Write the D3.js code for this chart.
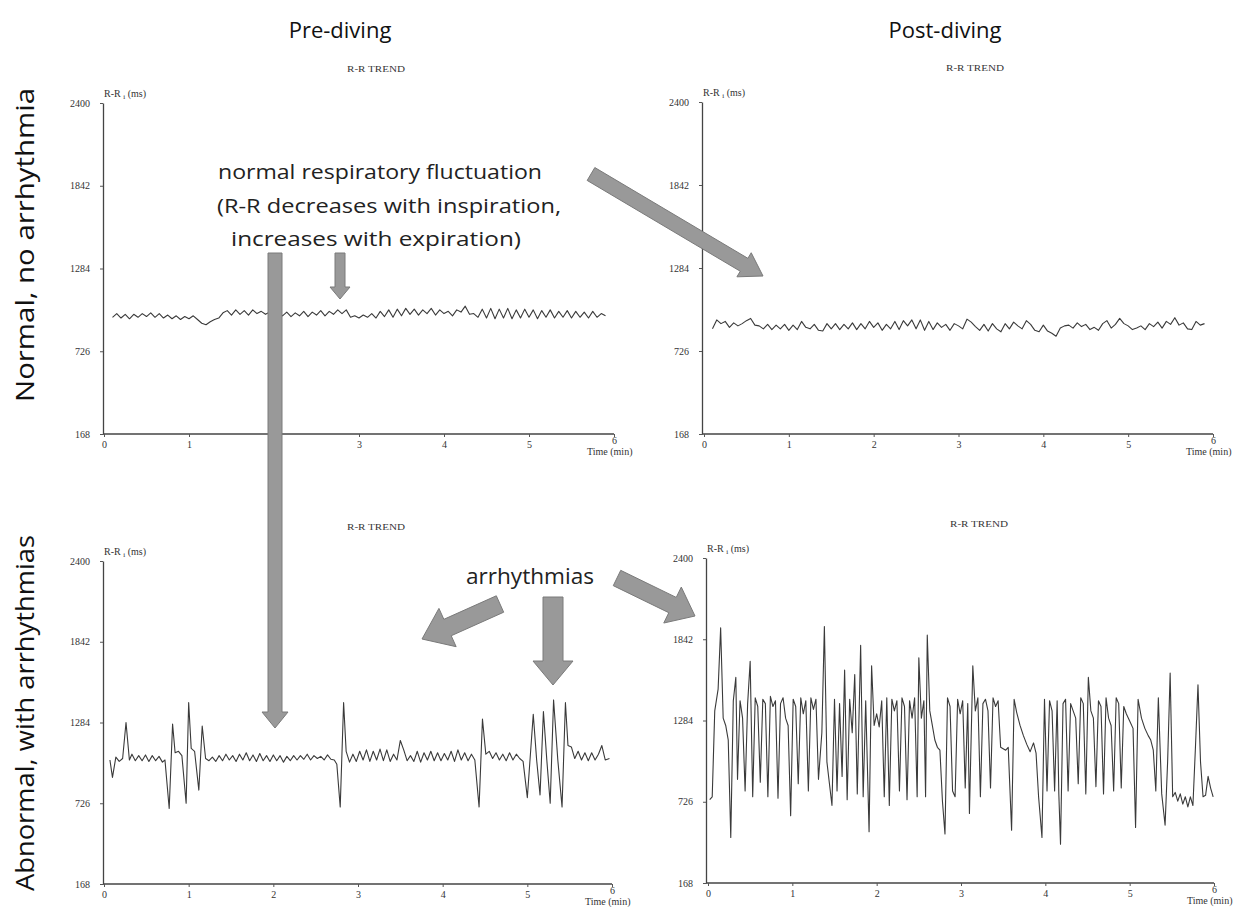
<!DOCTYPE html>
<html>
<head>
<meta charset="utf-8">
<script src="https://cdn.jsdelivr.net/npm/d3@7"></script>
<style>
body { margin: 0; background: #fff; }
svg { display: block; }
</style>
</head>
<body>
<div class="viz"></div>
<script>
// axis ticks
var timeTicks = [0, 1, 2, 3, 4, 5, 6];
var rrTicks = [168, 726, 1284, 1842, 2400];

// evenly sampled traces (min from 0.1, every 0.05 min), R-R in ms
var sampleStart = 0.1, sampleStep = 0.05;
var preNormal = [955, 980, 950, 975, 945, 975, 955, 980, 960, 985, 955, 980, 950, 970, 945, 965, 940, 960, 945, 965,
    940, 915, 905, 925, 940, 950, 985, 1000, 970, 1005, 975, 1000, 970, 1005, 980, 995, 975, 990, 970, 995,
    965, 990, 960, 985, 965, 995, 960, 990, 970, 1000, 965, 995, 975, 1005, 980, 1005, 955, 965, 950, 970,
    955, 980, 950, 995, 960, 1005, 955, 1010, 965, 1015, 975, 1010, 970, 1005, 980, 1015, 970, 1005, 980, 995,
    965, 1005, 990, 1030, 975, 980, 955, 1010, 950, 1015, 945, 1010, 950, 1015, 945, 1005, 950, 1010, 955, 1005,
    945, 1000, 955, 1005, 950, 995, 955, 1000, 950, 995, 955, 990, 950, 995, 955, 980, 965];
var postNormal = [875, 935, 910, 925, 885, 915, 895, 910, 930, 945, 900, 895, 875, 905, 870, 900, 875, 905, 865, 900,
    870, 925, 885, 875, 905, 865, 860, 910, 875, 910, 870, 905, 875, 915, 870, 910, 875, 925, 885, 915,
    865, 905, 875, 925, 870, 930, 895, 935, 875, 935, 865, 925, 870, 915, 885, 905, 865, 910, 895, 875,
    940, 920, 890, 865, 905, 860, 910, 875, 855, 910, 875, 920, 895, 875, 930, 905, 865, 855, 900, 860,
    845, 825, 880, 895, 900, 880, 915, 890, 905, 870, 885, 865, 910, 930, 880, 905, 945, 910, 895, 870,
    880, 895, 870, 910, 890, 920, 880, 925, 905, 950, 900, 915, 875, 870, 925, 900, 910];

// irregular traces: [time (min), R-R (ms)]
var preAbnormal = [[0.07, 1025], [0.10, 905], [0.14, 1045], [0.18, 1015], [0.22, 1035], [0.26, 1284], [0.30, 1025],
    [0.33, 1065], [0.37, 1020], [0.41, 1055], [0.45, 1020], [0.49, 1060], [0.53, 1015], [0.57, 1055], [0.61, 1020],
    [0.65, 1050], [0.69, 1010], [0.72, 1025], [0.77, 690], [0.81, 1273], [0.84, 1075], [0.88, 1085], [0.92, 1055],
    [0.97, 726], [1.00, 1421], [1.03, 1105], [1.07, 1085], [1.12, 817], [1.16, 1260], [1.20, 1035], [1.24, 1020],
    [1.28, 1045], [1.32, 1015], [1.36, 1055], [1.40, 1020], [1.44, 1065], [1.48, 1025], [1.52, 1055], [1.56, 1015],
    [1.60, 1065], [1.64, 1025], [1.68, 1075], [1.72, 1020], [1.76, 1060], [1.80, 1015], [1.84, 1070], [1.88, 1020],
    [1.92, 1055], [1.96, 1015], [2.00, 1060], [2.04, 1020], [2.08, 1055], [2.12, 1010], [2.16, 1050], [2.20, 1020],
    [2.24, 1055], [2.28, 1025], [2.32, 1055], [2.36, 1030], [2.40, 1065], [2.44, 1025], [2.48, 1055], [2.52, 1035],
    [2.56, 1050], [2.60, 1025], [2.64, 1060], [2.68, 1030], [2.72, 1025], [2.75, 995], [2.79, 700], [2.83, 1421],
    [2.86, 1085], [2.90, 1010], [2.94, 1065], [2.98, 1015], [3.02, 1085], [3.06, 1025], [3.10, 1095], [3.14, 1015],
    [3.18, 1085], [3.22, 1025], [3.26, 1100], [3.30, 1020], [3.34, 1095], [3.38, 1015], [3.42, 1065], [3.46, 1025],
    [3.50, 1160], [3.54, 1095], [3.58, 1020], [3.62, 1055], [3.66, 1015], [3.70, 1085], [3.74, 1010], [3.78, 1075],
    [3.82, 1025], [3.86, 1085], [3.90, 1020], [3.94, 1075], [3.98, 1020], [4.02, 1070], [4.06, 1025], [4.10, 1085],
    [4.14, 1015], [4.18, 1095], [4.22, 1025], [4.26, 1075], [4.30, 1020], [4.34, 1065], [4.38, 1025], [4.43, 700],
    [4.47, 1307], [4.51, 1065], [4.55, 1085], [4.59, 1035], [4.63, 1075], [4.67, 1025], [4.71, 1065], [4.75, 1020],
    [4.79, 1075], [4.83, 1025], [4.87, 1065], [4.91, 1035], [4.95, 1015], [5.00, 765], [5.07, 1341], [5.11, 1025],
    [5.15, 783], [5.19, 1360], [5.23, 1025], [5.27, 726], [5.31, 1440], [5.36, 1025], [5.41, 700], [5.45, 1421],
    [5.48, 1125], [5.52, 1115], [5.56, 1035], [5.60, 1085], [5.64, 1025], [5.68, 1075], [5.72, 1020], [5.76, 1075],
    [5.80, 1025], [5.84, 1065], [5.88, 1125], [5.92, 1025], [5.97, 1035]];
var postAbnormal = [[0.02, 740], [0.05, 760], [0.08, 1350], [0.12, 1500], [0.15, 1920], [0.18, 1300], [0.21, 1250],
    [0.24, 1150], [0.27, 480], [0.30, 1420], [0.33, 1580], [0.35, 880], [0.38, 1420], [0.41, 1300], [0.44, 800],
    [0.47, 1400], [0.50, 1690], [0.53, 760], [0.56, 1440], [0.59, 1380], [0.62, 860], [0.65, 1430], [0.68, 1400],
    [0.71, 760], [0.74, 1450], [0.77, 1380], [0.80, 1420], [0.83, 750], [0.86, 1400], [0.89, 1440], [0.92, 1300],
    [0.95, 1250], [0.98, 630], [1.01, 1430], [1.04, 1380], [1.07, 850], [1.10, 1440], [1.13, 1330], [1.16, 1420],
    [1.19, 800], [1.22, 1440], [1.25, 1360], [1.28, 1430], [1.31, 880], [1.35, 1200], [1.38, 1930], [1.41, 1000],
    [1.44, 850], [1.47, 700], [1.50, 1430], [1.53, 800], [1.56, 1400], [1.59, 900], [1.62, 1630], [1.65, 740],
    [1.68, 1430], [1.71, 1200], [1.74, 1600], [1.77, 780], [1.81, 1800], [1.84, 760], [1.87, 1420], [1.91, 520],
    [1.94, 1660], [1.97, 1250], [2.00, 1330], [2.03, 1240], [2.06, 1420], [2.09, 760], [2.12, 1440], [2.15, 700],
    [2.18, 1430], [2.21, 1350], [2.24, 1420], [2.27, 800], [2.30, 1440], [2.33, 1380], [2.36, 740], [2.39, 1420],
    [2.42, 1300], [2.45, 1440], [2.48, 760], [2.50, 1715], [2.53, 1300], [2.56, 1420], [2.58, 760], [2.60, 1870],
    [2.63, 1350], [2.66, 1250], [2.69, 1150], [2.72, 1100], [2.75, 1080], [2.78, 730], [2.81, 505], [2.84, 1440],
    [2.87, 1380], [2.90, 800], [2.93, 760], [2.96, 1430], [2.99, 1330], [3.02, 1420], [3.05, 820], [3.08, 1400],
    [3.10, 645], [3.14, 1660], [3.17, 1350], [3.20, 1440], [3.23, 760], [3.26, 1400], [3.29, 1430], [3.32, 1350],
    [3.35, 820], [3.38, 1440], [3.41, 1380], [3.44, 1420], [3.47, 1100], [3.50, 1090], [3.53, 1080], [3.56, 1100],
    [3.60, 530], [3.63, 1430], [3.66, 1340], [3.70, 1250], [3.74, 1180], [3.78, 1120], [3.82, 1070], [3.86, 1130],
    [3.89, 1060], [3.92, 760], [3.96, 480], [3.99, 1430], [4.02, 800], [4.05, 1420], [4.08, 1350], [4.11, 800],
    [4.14, 1420], [4.16, 780], [4.18, 435], [4.21, 1400], [4.24, 1430], [4.27, 800], [4.30, 1400], [4.33, 1350],
    [4.36, 1300], [4.39, 850], [4.42, 1440], [4.45, 1400], [4.48, 780], [4.51, 1580], [4.54, 1350], [4.57, 1300],
    [4.60, 830], [4.63, 1420], [4.66, 1380], [4.69, 780], [4.72, 1440], [4.75, 1300], [4.78, 1250], [4.81, 800],
    [4.84, 1440], [4.87, 1400], [4.90, 820], [4.93, 1380], [4.96, 1330], [5.00, 1280], [5.04, 1230], [5.07, 550],
    [5.10, 1430], [5.14, 1300], [5.18, 1230], [5.22, 1180], [5.25, 1150], [5.28, 1080], [5.31, 800], [5.34, 1440],
    [5.38, 780], [5.42, 565], [5.45, 1000], [5.48, 1610], [5.51, 760], [5.54, 790], [5.57, 730], [5.60, 780],
    [5.63, 710], [5.66, 760], [5.69, 690], [5.72, 760], [5.75, 700], [5.78, 1100], [5.81, 1530], [5.84, 1000],
    [5.87, 760], [5.90, 770], [5.93, 900], [5.96, 820], [5.99, 760]];

var width = 1238,
    height = 907;

var serif = "'Liberation Serif', 'DejaVu Serif', serif",
    sans = "'Open Sans', 'Noto Sans', sans-serif";

var svg = d3.select(".viz").append("svg")
    .attr("width", width)
    .attr("height", height);

function toPairs(values) {
    return values.map(function (v, i) { return [sampleStart + i * sampleStep, v]; });
}

var panels = [
    {data: toPairs(preNormal), left: 103, x0: 104, x6: 614, top: 103, bottom: 434},
    {data: toPairs(postNormal), left: 702, x0: 704, x6: 1213, top: 102, bottom: 434},
    {data: preAbnormal, left: 103, x0: 104, x6: 612, top: 561, bottom: 884},
    {data: postAbnormal, left: 706, x0: 708, x6: 1214, top: 558, bottom: 883}
];

panels.forEach(function (p) {
    var x = d3.scaleLinear().domain([0, 6]).range([p.x0, p.x6]);
    var y = d3.scaleLinear().domain([168, 2400]).range([p.bottom, p.top]);
    var g = svg.append("g");

    var yAxis = g.append("g")
        .attr("transform", "translate(" + p.left + ",0)")
        .call(d3.axisLeft(y).tickValues(rrTicks).tickFormat(d3.format("d"))
            .tickSize(3).tickSizeOuter(0).tickPadding(10));
    var xAxis = g.append("g")
        .attr("transform", "translate(0," + p.bottom + ")")
        .call(d3.axisBottom(x).tickValues(timeTicks).tickFormat(d3.format("d"))
            .tickSize(3).tickSizeOuter(0).tickPadding(4));

    [yAxis, xAxis].forEach(function (a) {
        a.select(".domain").attr("stroke", "#444").attr("stroke-width", 1.3);
        a.selectAll(".tick line").attr("stroke", "#555");
        a.selectAll("text").attr("font-family", serif).attr("font-size", 10).attr("fill", "#333");
    });
    xAxis.select(".domain").attr("d", "M" + p.left + ",0H" + p.x6);
    xAxis.selectAll(".tick text").filter(function (d) { return d === 6; })
        .attr("dy", "0.3em");

    g.append("text")
        .attr("x", p.x6 - 27).attr("y", p.bottom + 21)
        .attr("font-family", serif).attr("font-size", 10).attr("fill", "#333")
        .text("Time (min)");

    var yl = g.append("text")
        .attr("x", p.left + 1).attr("y", p.top - 6)
        .attr("font-family", serif).attr("font-size", 10).attr("fill", "#333");
    yl.append("tspan").text("R-R ");
    yl.append("tspan").attr("font-size", 7).attr("dy", 2).text("i");
    yl.append("tspan").attr("dy", -2).text(" (ms)");

    g.append("text")
        .attr("x", p.left + 273).attr("y", p.top - 31)
        .attr("text-anchor", "middle")
        .attr("font-family", serif).attr("font-size", 9).attr("fill", "#333")
        .attr("textLength", 58).attr("lengthAdjust", "spacingAndGlyphs")
        .text("R-R TREND");

    var line = d3.line()
        .x(function (d) { return x(d[0]); })
        .y(function (d) { return y(d[1]); });

    g.append("path")
        .datum(p.data)
        .attr("d", line)
        .attr("fill", "none")
        .attr("stroke", "#3a3a3a")
        .attr("stroke-width", 1.1)
        .attr("stroke-linejoin", "round");
});

// column and row headings
var headings = svg.append("g").attr("font-family", sans).attr("fill", "#111");
headings.append("text").attr("x", 340).attr("y", 38).attr("text-anchor", "middle")
    .attr("font-size", 22).text("Pre-diving");
headings.append("text").attr("x", 945).attr("y", 38).attr("text-anchor", "middle")
    .attr("font-size", 22).text("Post-diving");
headings.append("text").attr("transform", "translate(34,245) rotate(-90)").attr("text-anchor", "middle")
    .attr("font-size", 25).attr("textLength", 314).attr("lengthAdjust", "spacingAndGlyphs")
    .text("Normal, no arrhythmia");
headings.append("text").attr("transform", "translate(34,713) rotate(-90)").attr("text-anchor", "middle")
    .attr("font-size", 25).attr("textLength", 356).attr("lengthAdjust", "spacingAndGlyphs")
    .text("Abnormal, with arrhythmias");

// annotation text
var notes = svg.append("g").attr("font-family", sans).attr("fill", "#222").attr("font-size", 20);
notes.append("text").attr("x", 218).attr("y", 179).attr("textLength", 324)
    .attr("lengthAdjust", "spacingAndGlyphs").text("normal respiratory fluctuation");
notes.append("text").attr("x", 217).attr("y", 213).attr("textLength", 344)
    .attr("lengthAdjust", "spacingAndGlyphs").text("(R-R decreases with inspiration,");
notes.append("text").attr("x", 231).attr("y", 246).attr("textLength", 290)
    .attr("lengthAdjust", "spacingAndGlyphs").text("increases with expiration)");
notes.append("text").attr("x", 466).attr("y", 584).attr("font-size", 22).attr("textLength", 128)
    .attr("lengthAdjust", "spacingAndGlyphs").text("arrhythmias");

// block arrows
function arrow(x1, y1, x2, y2, w, hw, hl) {
    var dx = x2 - x1, dy = y2 - y1, len = Math.sqrt(dx * dx + dy * dy);
    var ux = dx / len, uy = dy / len, nx = -uy, ny = ux;
    var bx = x2 - ux * hl, by = y2 - uy * hl;
    var pts = [
        [x1 + nx * w / 2, y1 + ny * w / 2],
        [bx + nx * w / 2, by + ny * w / 2],
        [bx + nx * hw / 2, by + ny * hw / 2],
        [x2, y2],
        [bx - nx * hw / 2, by - ny * hw / 2],
        [bx - nx * w / 2, by - ny * w / 2],
        [x1 - nx * w / 2, y1 - ny * w / 2]
    ];
    svg.append("path")
        .attr("d", "M" + pts.join("L") + "Z")
        .attr("fill", "#999")
        .attr("stroke", "#7a7a7a")
        .attr("stroke-width", 1);
}

arrow(275, 253, 275, 728, 14, 26, 16);
arrow(340, 253, 340, 299, 10, 20, 12);
arrow(591, 174, 763, 276, 15, 28, 22);
arrow(500, 604, 422, 639, 18, 42, 28);
arrow(553, 597, 553, 685, 20, 40, 24);
arrow(617, 578, 695, 616, 17, 40, 25);
</script>
</body>
</html>
